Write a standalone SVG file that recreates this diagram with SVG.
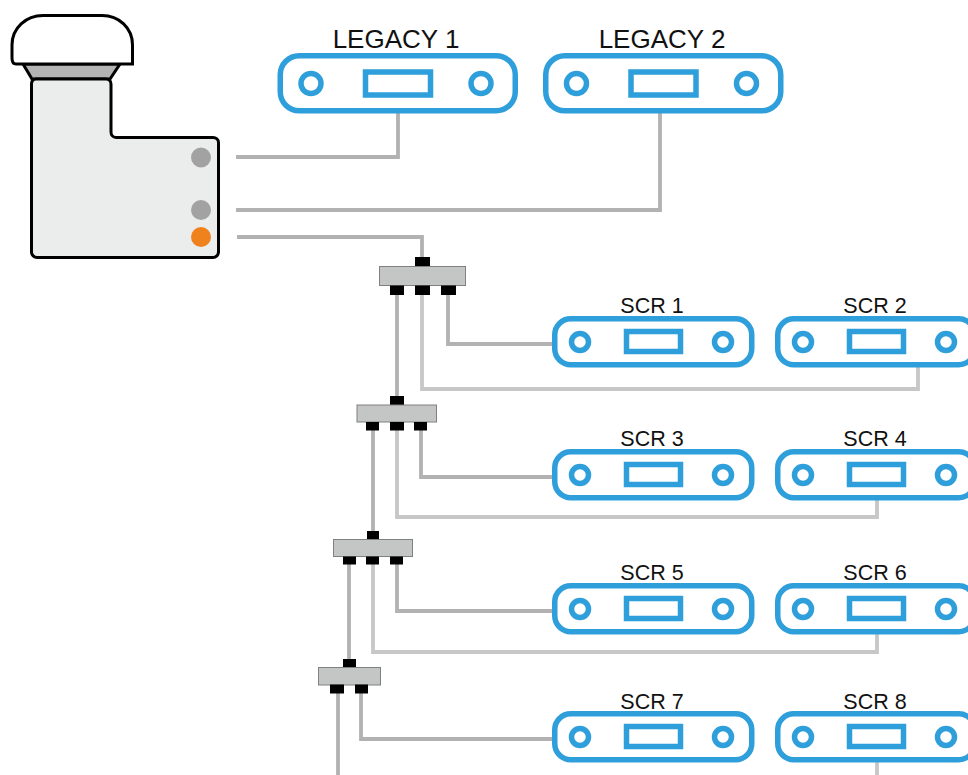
<svg xmlns="http://www.w3.org/2000/svg" width="968" height="775" viewBox="0 0 968 775">
<style>
.w{fill:none;stroke:#b1b2b1;stroke-width:3.8}
.l{fill:none;stroke:#c6c7c6;stroke-width:3.8}
.o{fill:#fff;stroke:#2f9fdb;stroke-width:5.500}
.c{fill:#fff;stroke:#2f9fdb;stroke-width:5.500}
.s{fill:#c4c6c5;stroke:#808080;stroke-width:1}
.t{fill:#000;stroke:none}
text{font-family:"Liberation Sans",Arial,sans-serif;fill:#111;text-anchor:middle}
.tl{font-size:26px}
.ts{font-size:21.500px}
</style>
<defs>
<g id="legacy"><rect class="o" x="2.750" y="2.750" width="235" height="55" rx="19"/><circle class="c" cx="33.500" cy="30.500" r="10"/><circle class="c" cx="203.500" cy="30.500" r="10"/><rect class="c" x="88" y="19" width="65" height="23"/></g>
<g id="scr"><rect class="o" x="2.750" y="2.750" width="197" height="46" rx="16"/><circle class="c" cx="28" cy="26" r="8.500"/><circle class="c" cx="171" cy="26" r="8.500"/><rect class="c" x="74.500" y="15.500" width="54" height="20"/></g>
</defs>
<g id="connectors">
<path class="w" d="M236 157H398V112"/>
<path class="w" d="M236 210H660V112"/>
<path class="w" d="M237 237H422V258"/>
<path class="w" d="M397 295V397"/>
<path class="l" d="M422 295V389H918V365"/>
<path class="w" d="M448 295V344H554"/>
<path class="w" d="M373 430V532"/>
<path class="l" d="M397 430V517H877V498"/>
<path class="w" d="M421 430V477H554"/>
<path class="w" d="M349 564V660"/>
<path class="l" d="M373 564V652H877V632"/>
<path class="w" d="M397 564V611H554"/>
<path class="w" d="M338 693V775"/>
<path class="w" d="M361 693V739H554"/>
<path class="l" d="M877 760V775"/>
</g>
<g id="lnb">
<path d="M23 64L32 79H110L120 64Z" fill="#b3b4b3" stroke="#000" stroke-width="3"/>
<path d="M12 58V45C12 28 26 15.500 43 15.500H102C119 15.500 132.500 28 132.500 45V64H16C13.500 64 12 62 12 58Z" fill="#fff" stroke="#000" stroke-width="3"/>
<path d="M36 79H106C109 79 111 81 111 84V132C111 135 113 137.500 116 137.500H213C216 137.500 218.500 139.500 218.500 142.500V252C218.500 255 216 257.500 213 257.500H37C34 257.500 31.500 255 31.500 252V84C31.500 81 33 79 36 79Z" fill="#ebecec" stroke="#000" stroke-width="3"/>
<circle cx="201" cy="157.500" r="10" fill="#a1a2a1"/>
<circle cx="201" cy="210" r="10" fill="#a1a2a1"/>
<circle cx="201" cy="237" r="10" fill="#f0821e"/>
</g>
<g id="legacy-1"><use href="#legacy" x="277.500" y="53"/><text class="tl" x="396" y="48">LEGACY 1</text></g>
<g id="legacy-2"><use href="#legacy" x="543" y="53"/><text class="tl" x="662" y="48">LEGACY 2</text></g>
<g id="scr-1"><use href="#scr" x="552" y="316"/><text class="ts" x="652" y="313">SCR 1</text></g>
<g id="scr-2"><use href="#scr" x="775" y="316"/><text class="ts" x="875" y="313">SCR 2</text></g>
<g id="scr-3"><use href="#scr" x="552" y="449"/><text class="ts" x="652" y="446">SCR 3</text></g>
<g id="scr-4"><use href="#scr" x="775" y="449"/><text class="ts" x="875" y="446">SCR 4</text></g>
<g id="scr-5"><use href="#scr" x="552" y="583"/><text class="ts" x="652" y="580">SCR 5</text></g>
<g id="scr-6"><use href="#scr" x="775" y="583"/><text class="ts" x="875" y="580">SCR 6</text></g>
<g id="scr-7"><use href="#scr" x="552" y="711"/><text class="ts" x="652" y="709">SCR 7</text></g>
<g id="scr-8"><use href="#scr" x="775" y="711"/><text class="ts" x="875" y="709">SCR 8</text></g>
<g id="splitter-1"><rect class="t" x="415" y="257" width="15" height="9.500"/><rect class="s" x="379.500" y="266.500" width="86" height="19"/><rect class="t" x="390" y="285.500" width="14" height="9.500"/><rect class="t" x="415" y="285.500" width="15" height="9.500"/><rect class="t" x="441" y="285.500" width="15" height="9.500"/></g>
<g id="splitter-2"><rect class="t" x="390" y="396" width="14" height="9"/><rect class="s" x="357" y="405" width="79.500" height="17"/><rect class="t" x="366" y="422" width="13" height="8.500"/><rect class="t" x="390" y="422" width="14" height="8.500"/><rect class="t" x="414" y="422" width="13" height="8.500"/></g>
<g id="splitter-3"><rect class="t" x="367" y="531" width="12" height="8.500"/><rect class="s" x="333.500" y="539.500" width="79" height="17"/><rect class="t" x="343" y="556.500" width="13" height="8"/><rect class="t" x="366" y="556.500" width="13" height="8"/><rect class="t" x="390" y="556.500" width="13" height="8"/></g>
<g id="splitter-4"><rect class="t" x="343" y="659" width="13" height="8.500"/><rect class="s" x="318.500" y="667.500" width="62" height="17.500"/><rect class="t" x="330" y="684.500" width="14" height="9"/><rect class="t" x="355" y="684.500" width="13" height="9"/></g>
</svg>
